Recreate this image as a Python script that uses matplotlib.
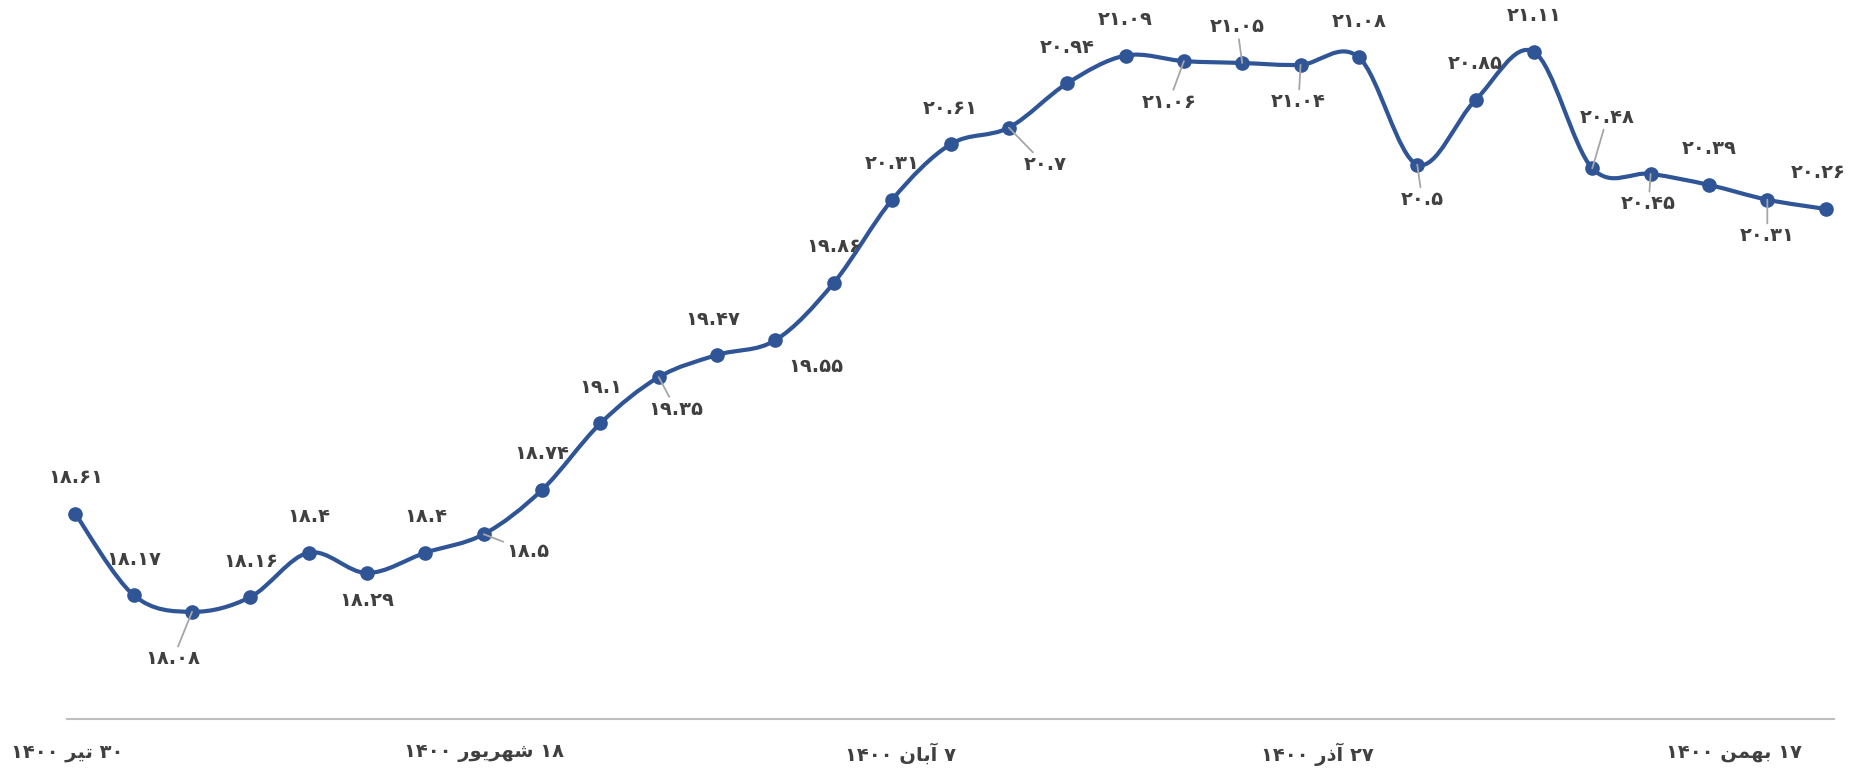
"""
Weekly series 30 Tir 1400 - 17 Bahman 1400, smoothed line with data labels.
"""

import numpy as np
import matplotlib
matplotlib.use("Agg")
import matplotlib.pyplot as plt
from matplotlib.path import Path
from matplotlib.patches import PathPatch

# ---- data ----
values = [18.61, 18.17, 18.08, 18.16, 18.4, 18.29, 18.4, 18.5, 18.74, 19.1,
          19.35, 19.47, 19.55, 19.86, 20.31, 20.61, 20.7, 20.94, 21.09, 21.06,
          21.05, 21.04, 21.08, 20.5, 20.85, 21.11, 20.48, 20.45, 20.39, 20.31,
          20.26]
first_day = 1          # days after 30 Tir 1400
step_days = 7
tick_days = [0, 50, 100, 150, 200]
tick_labels = ["۳۰ تیر ۱۴۰۰", "۱۸ شهریور ۱۴۰۰", "۷ آبان ۱۴۰۰",
               "۲۷ آذر ۱۴۰۰", "۱۷ بهمن ۱۴۰۰"]

# label offsets in pixels (dx, dy), dy positive = down; and which get leader lines
label_offsets = {2: (-19, 47), 5: (0, 27), 7: (44, 17), 10: (17, 32),
                 11: (-4, -35), 12: (40, 26), 16: (36, 37), 19: (-15, 41),
                 20: (-5, -36), 21: (-2, 37), 23: (5, 35), 26: (15, -51),
                 27: (-2, 30), 29: (0, 36), 30: (-7, -36)}
leaders = {2, 7, 10, 16, 19, 20, 21, 23, 26, 27, 29}

LINE_COLOR = "#2F5597"
TEXT_COLOR = "#404040"
LEADER_COLOR = "#A6A6A6"

# ---- minimal Persian shaping (matplotlib has no bidi / joining) ----
FORMS = {
    "ت": (0xFE95, 0xFE96, 0xFE97, 0xFE98), "ی": (0xFBFC, 0xFBFD, 0xFBFE, 0xFBFF),
    "ش": (0xFEB5, 0xFEB6, 0xFEB7, 0xFEB8), "ه": (0xFEE9, 0xFEEA, 0xFEEB, 0xFEEC),
    "ب": (0xFE8F, 0xFE90, 0xFE91, 0xFE92), "ن": (0xFEE5, 0xFEE6, 0xFEE7, 0xFEE8),
    "م": (0xFEE1, 0xFEE2, 0xFEE3, 0xFEE4),
    "ر": (0xFEAD, 0xFEAE), "و": (0xFEED, 0xFEEE), "آ": (0xFE81, 0xFE82),
    "ا": (0xFE8D, 0xFE8E), "ذ": (0xFEAB, 0xFEAC),
}


def shape_word(word):
    if not any(c in FORMS for c in word):
        return word
    out = []
    for i, c in enumerate(word):
        forms = FORMS.get(c)
        if forms is None:
            out.append(c)
            continue
        prev_joins = i > 0 and len(FORMS.get(word[i - 1], ())) == 4
        next_joins = (len(forms) == 4 and i + 1 < len(word)
                      and word[i + 1] in FORMS)
        if prev_joins and next_joins:
            code = forms[3]
        elif prev_joins:
            code = forms[1]
        elif next_joins:
            code = forms[2]
        else:
            code = forms[0]
        out.append(chr(code))
    return "".join(reversed(out))


def rtl(text):
    return " ".join(shape_word(w) for w in reversed(text.split(" ")))


def fa_digits(s):
    return s.translate(str.maketrans("0123456789", "۰۱۲۳۴۵۶۷۸۹"))


def smooth_path(x, y):
    # Catmull-Rom style bezier, like spreadsheet "smoothed line"
    pts = np.column_stack([x, y]).astype(float)
    n = len(pts)
    verts = [pts[0]]
    codes = [Path.MOVETO]
    for i in range(n - 1):
        p0 = pts[max(i - 1, 0)]
        p1 = pts[i]
        p2 = pts[i + 1]
        p3 = pts[min(i + 2, n - 1)]
        c1 = p1 + (p2 - p0) / 6.0
        c2 = p2 - (p3 - p1) / 6.0
        verts += [c1, c2, p2]
        codes += [Path.CURVE4] * 3
    return Path(verts, codes)


def main():
    days = first_day + step_days * np.arange(len(values))

    fig = plt.figure(figsize=(18.55, 7.72), dpi=100)
    ax = fig.add_axes([67 / 1855, 1 - 719 / 772, 1767 / 1855, 719 / 772])

    ax.add_patch(PathPatch(smooth_path(days, values), facecolor="none",
                           edgecolor=LINE_COLOR, lw=3.0, capstyle="round",
                           joinstyle="round", zorder=3, clip_on=False))
    ax.plot(days, values, linestyle="none", marker="o", ms=9.5,
            color=LINE_COLOR, zorder=4, clip_on=False)

    ax.set_xlim(0, 212)
    ax.set_ylim(17.5, 17.5 + 719 / 184.8)

    for i, (d, v) in enumerate(zip(days, values)):
        dx, dy = label_offsets.get(i, (0, -36))
        arrow = None
        if i in leaders:
            arrow = dict(arrowstyle="-", color=LEADER_COLOR, lw=1.3,
                         shrinkA=0, shrinkB=0)
        ax.annotate(fa_digits(f"{v:g}"), xy=(d, v), xytext=(dx, -dy),
                    textcoords="offset pixels", ha="center", va="center",
                    fontsize=14, fontweight="bold", color=TEXT_COLOR,
                    family="DejaVu Sans", arrowprops=arrow, zorder=5,
                    annotation_clip=False)

    for side in ["top", "left", "right"]:
        ax.spines[side].set_visible(False)
    ax.spines["bottom"].set_color("#BFBFBF")
    ax.spines["bottom"].set_linewidth(1.5)
    ax.set_yticks([])
    ax.set_xticks(tick_days)
    ax.set_xticklabels([rtl(t) for t in tick_labels], fontsize=14,
                       fontweight="bold", color=TEXT_COLOR,
                       family="DejaVu Sans")
    ax.tick_params(axis="x", length=0, pad=17)

    fig.savefig("out.png", dpi=100)
    plt.close(fig)


if __name__ == "__main__":
    main()
